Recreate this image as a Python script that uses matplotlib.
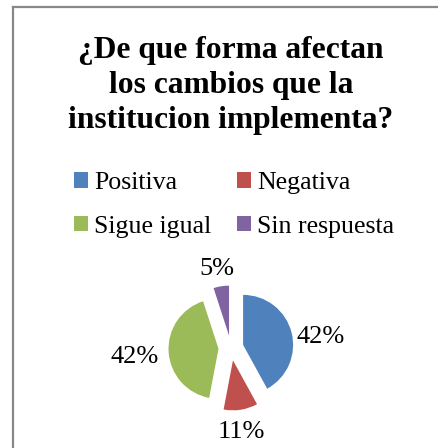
import matplotlib.pyplot as plt
from matplotlib.patches import Patch
from matplotlib.lines import Line2D

# datos de la encuesta
categorias = ['Positiva', 'Negativa', 'Sigue igual', 'Sin respuesta']
porcentajes = [42, 11, 42, 5]
colores = ['#4F81BD', '#C0504D', '#9BBB59', '#8064A2']
titulo = '¿De que forma afectan\nlos cambios que la\ninstitucion implementa?'

plt.rcParams['font.family'] = ['Liberation Serif', 'DejaVu Serif']

W, H = 438, 448
fig = plt.figure(figsize=(W / 100, H / 100), dpi=100)

# marco gris (solo lados izquierdo y superior visibles)
fig.add_artist(Line2D([13 / W, 13 / W], [0, 1 - 7 / H], color='#888888', lw=1.6))
fig.add_artist(Line2D([13 / W, 1], [1 - 7 / H, 1 - 7 / H], color='#888888', lw=1.6))

fig.text(231 / W, 1 - 36 / H, titulo, ha='center', va='top', fontsize=22.7,
         fontweight='bold', linespacing=1.27)

# la leyenda se llena por columnas, asi que se reordena para que quede por filas
orden = [0, 2, 1, 3]
handles = [Patch(facecolor=colores[i], edgecolor='none') for i in orden]
etiquetas = [categorias[i] for i in orden]
fig.legend(handles, etiquetas, ncol=2, loc='center', bbox_to_anchor=(234 / W, 1 - 205 / H),
           frameon=False, fontsize=18.6, handlelength=0.55, handleheight=0.55,
           handletextpad=0.22, columnspacing=1.0, labelspacing=0.82)

# pastel explotado, centro en (231, 348) px, radio 50 px
ax = fig.add_axes([(231 - 100) / W, (H - 348 - 100) / H, 200 / W, 200 / H])
wedges, _, autotexts = ax.pie(porcentajes, colors=colores, startangle=90, counterclock=False,
                              explode=[0.25] * 4, autopct='%d%%', pctdistance=1.5,
                              textprops={'fontsize': 19})
# ajuste fino de las etiquetas (estilo "fuera del extremo" de Excel)
ajustes = [(0.1, -0.22), (-0.07, 0.05), (-0.18, -0.08), (0.0, -0.15)]
for t, (dx, dy) in zip(autotexts, ajustes):
    x, y = t.get_position()
    t.set_position((x + dx, y + dy))
ax.set_xlim(-2, 2)
ax.set_ylim(-2, 2)
ax.set_aspect('equal')
ax.axis('off')

fig.savefig('out.png', dpi=100)
